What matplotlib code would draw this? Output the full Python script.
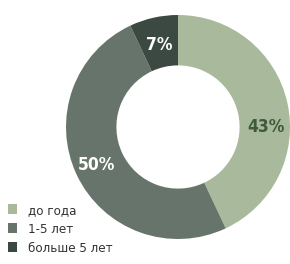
import matplotlib
matplotlib.use('Agg')
import matplotlib.pyplot as plt
from matplotlib.patches import Patch

labels = ['до года', '1-5 лет', 'больше 5 лет']
values = [43, 50, 7]
colors = ['#a9b99c', '#66746b', '#3c4943']
pct_colors = ['#3e5a3a', 'white', 'white']

fig = plt.figure(figsize=(2.9, 2.64), dpi=100)
ax = fig.add_axes([0.2276, 0.0947, 224 / 290, 224 / 264])

wedges, _ = ax.pie(values, colors=colors, startangle=90, counterclock=False,
                   radius=1.0, wedgeprops=dict(width=0.45, linewidth=0))
ax.set_xlim(-1, 1)
ax.set_ylim(-1, 1)
ax.set_aspect('auto')
ax.axis('off')

# подписи процентов
pos = [(0.79, 0.0), (-0.73, -0.34), (-0.17, 0.73)]
for (x, y), v, c in zip(pos, values, pct_colors):
    ax.text(x, y, f'{v}%', ha='center', va='center', fontsize=12.5,
            fontweight='bold', color=c, fontstretch='condensed')

handles = [Patch(facecolor=c, edgecolor='none') for c in colors]
fig.legend(handles, labels, loc='lower left', bbox_to_anchor=(-0.015, -0.01),
           frameon=False, handlelength=0.75, handleheight=0.75,
           handletextpad=0.8, labelspacing=0.45, labelcolor='#333333',
           prop={'size': 9.5, 'stretch': 'condensed'})

fig.savefig('out.png', dpi=100)
